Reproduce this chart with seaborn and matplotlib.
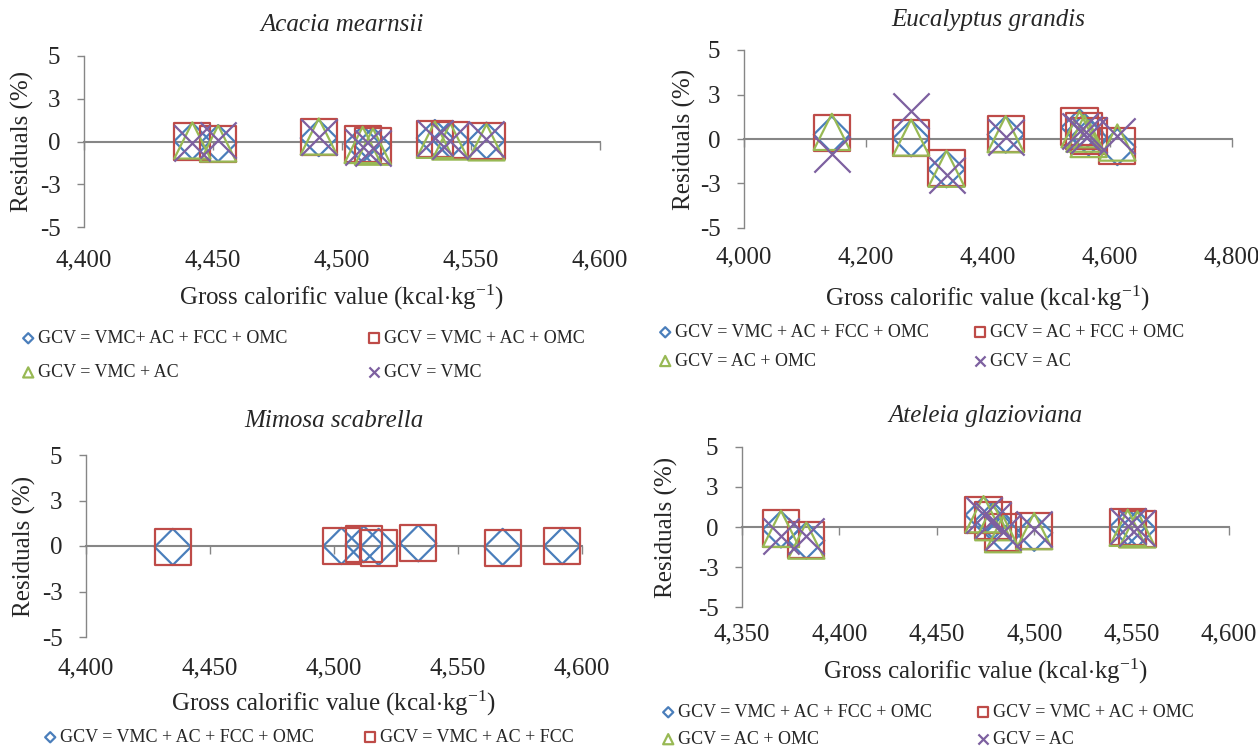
import matplotlib
matplotlib.use('Agg')
import seaborn as sns
import matplotlib.pyplot as plt
from matplotlib.path import Path
from matplotlib.ticker import StrMethodFormatter

# values (residuals in %)
acacia_gcv = [4442, 4452, 4491, 4508, 4512, 4536, 4542, 4556]
acacia_vmc_ac_fcc_omc = [0.02, -0.1, 0.2, -0.15, -0.25, 0.2, 0.1, 0.05]
acacia_vmc_ac_omc = [0.0, -0.15, 0.25, -0.15, -0.25, 0.16, 0.1, 0.02]
acacia_vmc_ac = [0.06, -0.12, 0.29, -0.2, -0.3, 0.1, 0.0, -0.05]
acacia_vmc = [-0.1, 0.06, 0.25, -0.3, -0.4, 0.2, 0.05, 0.15]
acacia_labels = ['GCV = VMC+ AC + FCC + OMC', 'GCV = VMC + AC + OMC',
                 'GCV = VMC + AC', 'GCV = VMC']

eucalyptus_gcv = [4144, 4274, 4332, 4429, 4550, 4558, 4565, 4612]
eucalyptus_vmc_ac_fcc_omc = [0.25, 0.04, -1.7, 0.25, 0.65, 0.4, 0.1, -0.45]
eucalyptus_ac_fcc_omc = [0.32, 0.06, -1.63, 0.29, 0.7, 0.45, 0.15, -0.4]
eucalyptus_ac_omc = [0.4, 0.08, -1.67, 0.27, 0.55, 0.3, 0.0, -0.2]
eucalyptus_ac = [-0.85, 1.6, -2.0, 0.13, 0.45, 0.3, 0.2, 0.15]
eucalyptus_labels = ['GCV = VMC + AC + FCC + OMC', 'GCV = AC + FCC + OMC',
                     'GCV = AC + OMC', 'GCV = AC']

mimosa_gcv = [4435, 4503, 4512, 4518, 4534, 4568, 4592]
mimosa_vmc_ac_fcc_omc = [-0.05, 0.0, 0.1, -0.05, 0.15, -0.05, 0.0]
mimosa_vmc_ac_fcc = [-0.07, 0.0, 0.13, -0.1, 0.17, -0.1, 0.0]
mimosa_labels = ['GCV = VMC + AC + FCC + OMC', 'GCV = VMC + AC + FCC']

ateleia_gcv = [4370, 4383, 4474, 4479, 4484, 4500, 4548, 4553]
ateleia_vmc_ac_fcc_omc = [-0.15, -0.85, 0.75, 0.4, -0.4, -0.36, 0.0, -0.1]
ateleia_vmc_ac_omc = [-0.1, -0.82, 0.74, 0.4, -0.34, -0.26, 0.0, -0.11]
ateleia_ac_omc = [-0.11, -0.85, 0.8, 0.3, -0.45, -0.26, -0.05, -0.15]
ateleia_ac = [-0.55, -0.58, 0.75, 0.45, -0.3, -0.14, 0.05, -0.05]
ateleia_labels = ['GCV = VMC + AC + FCC + OMC', 'GCV = VMC + AC + OMC',
                  'GCV = AC + OMC', 'GCV = AC']

y_ticks = [-5, -2.5, 0, 2.5, 5]
y_ticklabels = ['-5', '-3', '0', '3', '5']

W, H = 1258, 754
GREY = '#868686'
diamond = Path([(0, 1), (1, 0), (0, -1), (-1, 0), (0, 1)],
               [Path.MOVETO, Path.LINETO, Path.LINETO, Path.LINETO, Path.CLOSEPOLY])
styles = [(diamond, '#4A7EBB'), ('s', '#BE4B48'), ('^', '#98B954'), ('x', '#7D60A0')]

sns.set_style('white')
plt.rcParams['font.family'] = ['Liberation Serif', 'DejaVu Serif']
plt.rcParams['mathtext.fontset'] = 'custom'
plt.rcParams['mathtext.rm'] = 'Liberation Serif'
plt.rcParams['mathtext.it'] = 'Liberation Serif:italic'


def panel(fig, box, title, gcv, series, labels, xlim, xstep, tpad, lpad, xl_top,
          yl_right, leg_x, leg_top, leg_gap):
    l, r, t, b = box
    ax = fig.add_axes([l / W, 1 - b / H, (r - l) / W, (b - t) / H])
    handles = []
    for vals, (mk, col) in zip(series, styles):
        if mk == 'x':
            sns.scatterplot(x=gcv, y=vals, marker=mk, s=680, color=col,
                            linewidth=1.6, ax=ax, zorder=3)
        else:
            sns.scatterplot(x=gcv, y=vals, marker=mk, s=680, facecolors='none',
                            edgecolor=col, linewidth=1.6, ax=ax, zorder=3)
        handles.append(ax.collections[-1])

    ax.set_xlim(*xlim)
    ax.set_ylim(-5, 5)
    ticks = list(range(xlim[0], xlim[1] + 1, xstep))
    ax.set_xticks(ticks)
    ax.set_yticks(y_ticks)
    ax.set_yticklabels(y_ticklabels)
    ax.spines['top'].set_visible(False)
    ax.spines['right'].set_visible(False)
    ax.spines['bottom'].set_position(('data', 0))
    ax.spines['bottom'].set_color(GREY)
    ax.spines['bottom'].set_linewidth(1.5)
    ax.spines['left'].set_color(GREY)
    ax.spines['left'].set_linewidth(1.0)
    ax.tick_params(axis='x', bottom=True, labelbottom=False, direction='out',
                   length=6, width=1, color=GREY)
    ax.tick_params(axis='y', left=True, direction='out', length=5, width=1,
                   color=GREY, labelsize=18, pad=12)

    sec = ax.secondary_xaxis('bottom')
    sec.set_xticks(ticks)
    sec.xaxis.set_major_formatter(StrMethodFormatter('{x:,.0f}'))
    sec.spines['bottom'].set_visible(False)
    sec.tick_params(length=0, labelsize=18, pad=lpad)

    ax.set_title(title, fontsize=18, style='italic', pad=tpad)
    ax.set_xlabel('Gross calorific value (kcal$\\cdot$kg$^{\\mathrm{-1}}$)', fontsize=18)
    ax.xaxis.set_label_coords(0.5, -(xl_top - b) / (b - t))
    ax.xaxis.label.set_va('top')
    ax.set_ylabel('Residuals (%)', fontsize=18)
    ax.yaxis.set_label_coords(-(l - yl_right) / (r - l), 0.5)

    # two legend columns, placed independently like the original
    cols = [(handles[0::2], labels[0::2]), (handles[1::2], labels[1::2])]
    for (hs, ls), x in zip(cols, leg_x):
        fig.legend(hs, ls, loc='upper left', bbox_to_anchor=(x / W, 1 - leg_top / H),
                   frameon=False, fontsize=13, markerscale=0.28, handlelength=0.8,
                   handletextpad=0.15, labelspacing=leg_gap, borderpad=0,
                   borderaxespad=0)
    return ax


fig = plt.figure(figsize=(W / 100, H / 100), dpi=100)

panel(fig, (84, 600, 56, 227), 'Acacia mearnsii', acacia_gcv,
      [acacia_vmc_ac_fcc_omc, acacia_vmc_ac_omc, acacia_vmc_ac, acacia_vmc],
      acacia_labels, (4400, 4600), 50, 18, 16, 283, 34, (21, 367), 330, 0.95)
panel(fig, (744, 1232, 50, 228), 'Eucalyptus grandis', eucalyptus_gcv,
      [eucalyptus_vmc_ac_fcc_omc, eucalyptus_ac_fcc_omc, eucalyptus_ac_omc, eucalyptus_ac],
      eucalyptus_labels, (4000, 4800), 200, 17, 13, 284, 696, (658, 973), 324, 0.65)
panel(fig, (86, 582, 455, 637), 'Mimosa scabrella', mimosa_gcv,
      [mimosa_vmc_ac_fcc_omc, mimosa_vmc_ac_fcc],
      mimosa_labels, (4400, 4600), 50, 20, 15, 689, 36, (43, 363), 729, 0.6)
panel(fig, (742, 1229, 447, 607), 'Ateleia glazioviana', ateleia_gcv,
      [ateleia_vmc_ac_fcc_omc, ateleia_vmc_ac_omc, ateleia_ac_omc, ateleia_ac],
      ateleia_labels, (4350, 4600), 50, 18, 12, 657, 678, (661, 976), 704, 0.55)

fig.savefig('out.png', dpi=100, facecolor='white')
